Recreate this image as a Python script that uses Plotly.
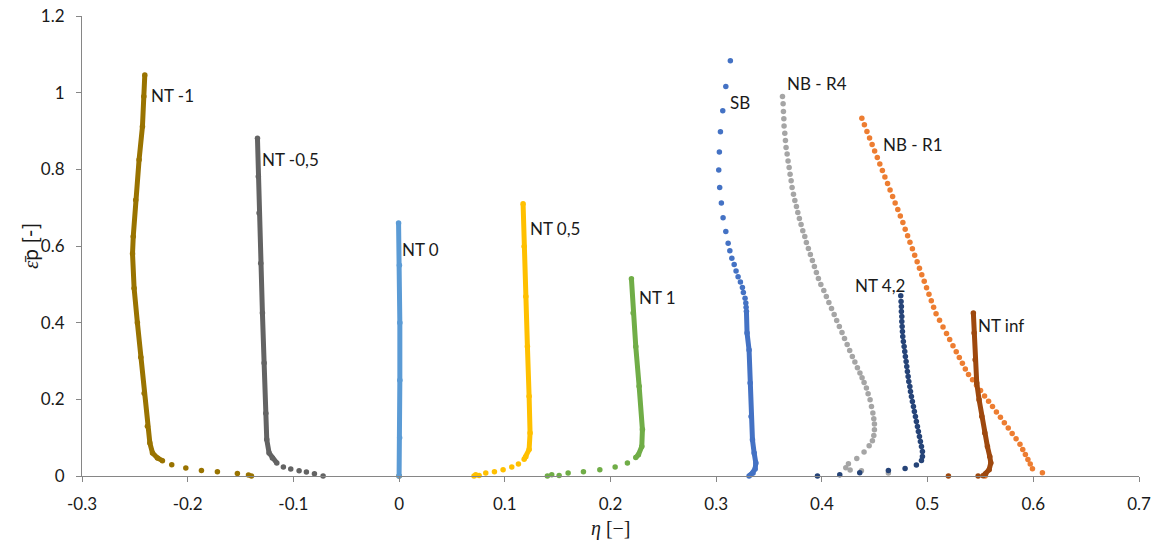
import plotly.graph_objects as go

# ---- axis ticks ----
x_tick_vals = [-0.3, -0.2, -0.1, 0.0, 0.1, 0.2, 0.3, 0.4, 0.5, 0.6, 0.7]
x_tick_text = ["-0.3", "-0.2", "-0.1", "0", "0.1", "0.2", "0.3", "0.4", "0.5", "0.6", "0.7"]
y_tick_vals = [0.0, 0.2, 0.4, 0.6, 0.8, 1.0, 1.2]
y_tick_text = ["0", "0.2", "0.4", "0.6", "0.8", "1", "1.2"]

# ---- NT -1 ----
nt_m1_body_x = [-0.2406, -0.2415, -0.2428, -0.2460, -0.2492, -0.2515, -0.2522, -0.2507, -0.2476,
                -0.2444, -0.2412, -0.2381, -0.2358, -0.2333, -0.2286, -0.2239]
nt_m1_body_y = [1.046, 0.990, 0.912, 0.825, 0.720, 0.625, 0.580, 0.490, 0.400,
                0.310, 0.216, 0.130, 0.086, 0.060, 0.047, 0.040]
nt_m1_tail_x = [-0.2151, -0.2018, -0.1870, -0.1719, -0.1530, -0.1425, -0.1397, 0.0]
nt_m1_tail_y = [0.0295, 0.0208, 0.0146, 0.0110, 0.0068, 0.0026, 0.0, 0.0]

# ---- NT -0,5 ----
nt_m05_body_x = [-0.1340, -0.1332, -0.1325, -0.1309, -0.1293, -0.1277, -0.1261, -0.1252,
                 -0.1230, -0.1199, -0.1157]
nt_m05_body_y = [0.881, 0.781, 0.686, 0.555, 0.425, 0.295, 0.164, 0.095, 0.060, 0.047, 0.034]
nt_m05_tail_x = [-0.1095, -0.1025, -0.0946, -0.0877, -0.0801, -0.0719]
nt_m05_tail_y = [0.0235, 0.0180, 0.0138, 0.0104, 0.0060, 0.0]

# ---- NT 0 ----
nt_0_body_x = [-0.0005, 0.0003, 0.0007, 0.0007, 0.0005, 0.0]
nt_0_body_y = [0.660, 0.550, 0.400, 0.250, 0.100, 0.0]

# ---- NT 0,5 ----
nt_05_body_x = [0.1173, 0.1183, 0.1199, 0.1214, 0.1230, 0.1239, 0.1230, 0.1199, 0.1183]
nt_05_body_y = [0.710, 0.599, 0.468, 0.338, 0.208, 0.112, 0.069, 0.050, 0.044]
nt_05_tail_x = [0.1129, 0.1066, 0.0984, 0.0902, 0.0820, 0.0757, 0.0725, 0.0709]
nt_05_tail_y = [0.0313, 0.0235, 0.0164, 0.0112, 0.0078, 0.0010, 0.0034, 0.0]

# ---- NT 1 ----
nt_1_body_x = [0.2198, 0.2214, 0.2239, 0.2271, 0.2302, 0.2296, 0.2264, 0.2239]
nt_1_body_y = [0.5145, 0.425, 0.338, 0.234, 0.121, 0.077, 0.0555, 0.0485]
nt_1_tail_x = [0.2160, 0.2044, 0.1899, 0.1744, 0.1599, 0.1514, 0.1444, 0.1403]
nt_1_tail_y = [0.0340, 0.0235, 0.0164, 0.0112, 0.0078, 0.0010, 0.0034, 0.0]

# ---- SB ----
sb_top_x = [0.3134, 0.3091, 0.3062, 0.3040, 0.3030, 0.3024, 0.3033, 0.3049, 0.3065, 0.3091, 0.3113,
            0.3129, 0.3148, 0.3170, 0.3188, 0.3207, 0.3229, 0.3248, 0.3257, 0.3273, 0.3280, 0.3283]
sb_top_y = [1.083, 1.016, 0.953, 0.898, 0.845, 0.798, 0.7525, 0.712, 0.674, 0.638, 0.6075,
            0.5875, 0.568, 0.552, 0.535, 0.520, 0.506, 0.492, 0.479, 0.464, 0.451, 0.440]
sb_body_x = [0.3286, 0.3292, 0.3311, 0.3321, 0.3330, 0.3343, 0.3359, 0.3375, 0.3368, 0.3349, 0.3327, 0.3311]
sb_body_y = [0.430, 0.373, 0.329, 0.2425, 0.155, 0.0947, 0.060, 0.034, 0.018, 0.008, 0.0034, 0.0]

# ---- NB - R4 ----
nb_r4_x = [0.3627, 0.3633, 0.3636, 0.3640, 0.3642, 0.3649, 0.3655, 0.3661, 0.3671, 0.3680,
           0.3690, 0.3699, 0.3709, 0.3718, 0.3731, 0.3744, 0.3759, 0.3772, 0.3787, 0.3803,
           0.3819, 0.3838, 0.3853, 0.3872, 0.3891, 0.3910, 0.3929, 0.3948, 0.3967, 0.3990,
           0.4018, 0.4042, 0.4066, 0.4091, 0.4116, 0.4140, 0.4165, 0.4190, 0.4214, 0.4239,
           0.4263, 0.4288, 0.4312, 0.4336, 0.4360, 0.4380, 0.4399, 0.4421, 0.4437, 0.4456,
           0.4469, 0.4482, 0.4491, 0.4497, 0.4497, 0.4491, 0.4478, 0.4447, 0.4399, 0.4330,
           0.4251, 0.4226, 0.4267, 0.4374, 0.4629]
nb_r4_y = [0.990, 0.971, 0.951, 0.932, 0.913, 0.894, 0.875, 0.857, 0.840, 0.822,
           0.805, 0.7875, 0.770, 0.7525, 0.735, 0.7187, 0.703, 0.6874, 0.6717, 0.656,
           0.640, 0.6248, 0.609, 0.5935, 0.578, 0.562, 0.5466, 0.531, 0.515, 0.4996,
           0.484, 0.468, 0.4527, 0.437, 0.4214, 0.4057, 0.390, 0.3745, 0.3588, 0.343,
           0.3275, 0.3119, 0.2973, 0.2824, 0.2686, 0.256, 0.244, 0.2295, 0.2146, 0.199,
           0.1815, 0.1643, 0.1494, 0.1356, 0.1207, 0.1059, 0.0920, 0.0790, 0.0626, 0.0459,
           0.0321, 0.0216, 0.0156, 0.0138, 0.0078]

# ---- NB - R1 ----
nb_r1_x = [0.4378, 0.4402, 0.4426, 0.4451, 0.4475, 0.4499, 0.4524, 0.4548, 0.4572, 0.4596,
           0.4621, 0.4645, 0.4669, 0.4693, 0.4718, 0.4742, 0.4766, 0.4788, 0.4811, 0.4833,
           0.4856, 0.4878, 0.4901, 0.4923, 0.4945, 0.4968, 0.4990, 0.5013, 0.5035, 0.5057,
           0.5080, 0.5113, 0.5146, 0.5179, 0.5209, 0.5240, 0.5271, 0.5300, 0.5329, 0.5357,
           0.5387, 0.5425, 0.5463, 0.5501, 0.5539, 0.5577, 0.5614, 0.5651, 0.5689, 0.5726,
           0.5763, 0.5800, 0.5837, 0.5874, 0.5900, 0.5925, 0.5949, 0.5971, 0.5992, 0.6086,
           0.5544]
nb_r1_y = [0.933, 0.916, 0.899, 0.882, 0.865, 0.848, 0.831, 0.814, 0.797, 0.780,
           0.763, 0.746, 0.729, 0.712, 0.695, 0.678, 0.661, 0.644, 0.627, 0.610,
           0.593, 0.576, 0.559, 0.542, 0.525, 0.508, 0.491, 0.474, 0.457, 0.440,
           0.423, 0.406, 0.389, 0.372, 0.356, 0.340, 0.324, 0.309, 0.294, 0.279,
           0.265, 0.251, 0.237, 0.223, 0.209, 0.195, 0.181, 0.167, 0.153, 0.139,
           0.125, 0.111, 0.097, 0.083, 0.069, 0.056, 0.043, 0.031, 0.019, 0.0086,
           0.0]

# ---- NT 4,2 ----
nt_42_x = [0.4746, 0.4749, 0.4752, 0.4752, 0.4756, 0.4756, 0.4759, 0.4762, 0.4765, 0.4771,
           0.4778, 0.4784, 0.4790, 0.4797, 0.4803, 0.4809, 0.4816, 0.4822, 0.4832, 0.4838,
           0.4847, 0.4856, 0.4866, 0.4875, 0.4885, 0.4894, 0.4904, 0.4913, 0.4923, 0.4932,
           0.4942, 0.4951, 0.4951, 0.4942, 0.4894, 0.4787, 0.4629, 0.4358, 0.4169, 0.3958]
nt_42_y = [0.4701, 0.4553, 0.4423, 0.4292, 0.4162, 0.4031, 0.3901, 0.3770, 0.3640, 0.3510,
           0.3380, 0.3250, 0.3120, 0.2990, 0.2858, 0.2728, 0.2597, 0.2467, 0.2337, 0.2206,
           0.2076, 0.1945, 0.1815, 0.1684, 0.1554, 0.1424, 0.1293, 0.1163, 0.1033, 0.0902,
           0.0772, 0.0641, 0.0511, 0.0407, 0.0287, 0.0198, 0.0146, 0.0086, 0.0030, 0.0]

# ---- NT inf ----
nt_inf_body_x = [0.5433, 0.5440, 0.5450, 0.5465, 0.5487, 0.5513, 0.5541, 0.5566, 0.5588,
                 0.5598, 0.5582, 0.5550, 0.5525]
nt_inf_body_y = [0.425, 0.373, 0.303, 0.2425, 0.199, 0.1554, 0.112, 0.077, 0.0511,
                 0.034, 0.0164, 0.006, 0.0008]
nt_inf_tail_x = [0.5478, 0.5197]
nt_inf_tail_y = [0.0, 0.0]

# ---- curve labels ----
label_text = ["NT -1", "NT -0,5", "NT 0", "NT 0,5", "NT 1", "SB", "NB - R4", "NB - R1", "NT 4,2", "NT inf"]
label_x = [-0.2346, -0.1296, 0.0028, 0.1239, 0.2270, 0.3130, 0.3670, 0.4580, 0.4314, 0.5478]
label_y = [0.992, 0.825, 0.590, 0.645, 0.465, 0.974, 1.023, 0.865, 0.497, 0.392]

C_NT_M1 = "#997300"
C_NT_M05 = "#636363"
C_NT_0 = "#5B9BD5"
C_NT_05 = "#FFC000"
C_NT_1 = "#70AD47"
C_SB = "#4472C4"
C_NB_R4 = "#A5A5A5"
C_NB_R1 = "#ED7D31"
C_NT_42 = "#264478"
C_NT_INF = "#9E480E"

MARKER = 5.5
TEXT = "#1a1a1a"

fig = go.Figure()


def dots(x, y, color):
    fig.add_trace(go.Scatter(
        x=x, y=y, mode="markers",
        marker=dict(size=MARKER, color=color, line=dict(width=0)),
        cliponaxis=False, hoverinfo="skip", showlegend=False))


def band(x, y, color):
    # densely sampled stretch: the markers merge into a continuous trail
    fig.add_trace(go.Scatter(
        x=x, y=y, mode="lines+markers",
        line=dict(color=color, width=5),
        marker=dict(size=MARKER, color=color, line=dict(width=0)),
        cliponaxis=False, hoverinfo="skip", showlegend=False))


band(nt_m1_body_x, nt_m1_body_y, C_NT_M1)
dots(nt_m1_tail_x, nt_m1_tail_y, C_NT_M1)
band(nt_m05_body_x, nt_m05_body_y, C_NT_M05)
dots(nt_m05_tail_x, nt_m05_tail_y, C_NT_M05)
band(nt_0_body_x, nt_0_body_y, C_NT_0)
band(nt_05_body_x, nt_05_body_y, C_NT_05)
dots(nt_05_tail_x, nt_05_tail_y, C_NT_05)
band(nt_1_body_x, nt_1_body_y, C_NT_1)
dots(nt_1_tail_x, nt_1_tail_y, C_NT_1)
dots(sb_top_x, sb_top_y, C_SB)
band(sb_body_x, sb_body_y, C_SB)
dots(nb_r4_x, nb_r4_y, C_NB_R4)
dots(nb_r1_x, nb_r1_y, C_NB_R1)
dots(nt_42_x, nt_42_y, C_NT_42)
band(nt_inf_body_x, nt_inf_body_y, C_NT_INF)
dots(nt_inf_tail_x, nt_inf_tail_y, C_NT_INF)

annotations = []
for t, lx, ly in zip(label_text, label_x, label_y):
    annotations.append(dict(
        x=lx, y=ly, xref="x", yref="y", text=t, showarrow=False,
        xanchor="left", yanchor="middle", xshift=-2,
        font=dict(family="Lato", size=17, color=TEXT)))

# axis titles
annotations.append(dict(
    x=0.5, y=0, xref="paper", yref="paper", yshift=-52,
    text="<i>η</i> [−]", showarrow=False, xanchor="center", yanchor="middle",
    font=dict(family="Liberation Serif", size=20, color=TEXT)))
annotations.append(dict(
    x=0, y=0.5, xref="paper", yref="paper", xshift=-52,
    text="<i>ε̄</i><span style='font-family:Lato'>p [-]</span>", showarrow=False, textangle=-90,
    xanchor="center", yanchor="middle",
    font=dict(family="Liberation Serif", size=21, color=TEXT)))

axis_common = dict(
    showgrid=False, zeroline=False, showline=True, linecolor="#868686", linewidth=1,
    ticks="outside", ticklen=5, tickcolor="#868686", tickwidth=1, automargin=False,
    tickfont=dict(family="Lato", size=17, color=TEXT), ticklabelstandoff=8,
)

fig.update_layout(
    width=1163, height=542,
    margin=dict(l=82, r=24, t=16, b=66),
    paper_bgcolor="white", plot_bgcolor="white",
    xaxis=dict(range=[-0.3, 0.7], tickvals=x_tick_vals, ticktext=x_tick_text, **axis_common),
    yaxis=dict(range=[0, 1.2], tickvals=y_tick_vals, ticktext=y_tick_text, **axis_common),
    annotations=annotations,
)

fig.write_html("out.html")
